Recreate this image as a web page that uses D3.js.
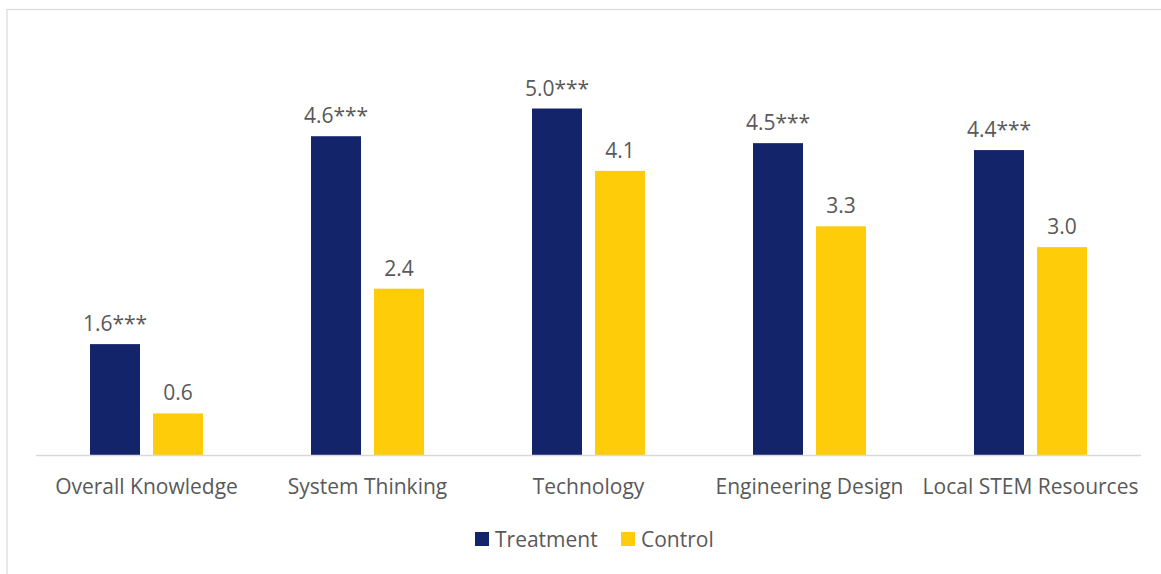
<!DOCTYPE html>
<html>
<head>
<meta charset="utf-8">
<script src="https://cdn.jsdelivr.net/npm/d3@7/dist/d3.min.js"></script>
<style>
  html, body { margin: 0; padding: 0; background: #fff; }
  svg { display: block; }
  text { font-family: "Open Sans", "Noto Sans", sans-serif; fill: #595959; }
</style>
</head>
<body>
<svg id="chart" width="1161" height="574"></svg>
<script>
const categories = ["Overall Knowledge", "System Thinking", "Technology", "Engineering Design", "Local STEM Resources"];
const seriesNames = ["Treatment", "Control"];
const treatment = [1.6, 4.6, 5.0, 4.5, 4.4];
const control = [0.6, 2.4, 4.1, 3.3, 3.0];
const treatmentLabels = ["1.6***", "4.6***", "5.0***", "4.5***", "4.4***"];
const controlLabels = ["0.6", "2.4", "4.1", "3.3", "3.0"];
const colors = ["#14246a", "#ffcc09"];

const svg = d3.select("#chart");
const W = 1161, H = 574;

// chart area frame
svg.append("rect")
  .attr("x", 7).attr("y", 9.5)
  .attr("width", W + 10).attr("height", H + 10)
  .attr("fill", "none").attr("stroke", "#d9d9d9").attr("stroke-width", 1.2);

const plot = { left: 36, right: 1141, top: 40, bottom: 455 };
const barW = 50, groupW = 113;

const x0 = d3.scaleBand().domain(categories).range([plot.left, plot.right]);
const x1 = d3.scaleOrdinal().domain(seriesNames).range([0, groupW - barW]);
const y = d3.scaleLinear().domain([0, 6]).range([plot.bottom, plot.bottom - 6 * 69.3]);

const rows = categories.map((c, i) => ({
  cat: c,
  vals: [
    { s: "Treatment", v: treatment[i], label: treatmentLabels[i] },
    { s: "Control", v: control[i], label: controlLabels[i] }
  ]
}));

const groups = svg.append("g").selectAll("g").data(rows).join("g")
  .attr("transform", d => `translate(${x0(d.cat) + (x0.bandwidth() - groupW) / 2},0)`);

groups.selectAll("rect").data(d => d.vals).join("rect")
  .attr("x", d => x1(d.s))
  .attr("width", barW)
  .attr("y", d => y(d.v))
  .attr("height", d => y(0) - y(d.v))
  .attr("fill", (d, i) => colors[i]);

groups.selectAll("text.val").data(d => d.vals).join("text")
  .attr("class", "val")
  .attr("x", d => x1(d.s) + barW / 2)
  .attr("y", d => y(d.v) - 13)
  .attr("text-anchor", "middle")
  .attr("font-size", 21)
  .text(d => d.label);

// baseline
svg.append("line")
  .attr("x1", plot.left).attr("x2", plot.right)
  .attr("y1", y(0) + 0.5).attr("y2", y(0) + 0.5)
  .attr("stroke", "#d9d9d9").attr("stroke-width", 1.5);

// category axis
const xAxis = svg.append("g").attr("transform", `translate(0,${y(0)})`)
  .call(d3.axisBottom(x0).tickSize(0).tickPadding(0));
xAxis.select(".domain").remove();
xAxis.selectAll("text")
  .attr("dy", 0).attr("y", 39)
  .attr("font-size", 21)
  .style("font-family", "\"Open Sans\", sans-serif")
  .attr("fill", "#595959");

// legend
const legend = svg.append("g").attr("transform", "translate(475,532)");
const legItems = [{ name: seriesNames[0], x: 0, c: colors[0] }, { name: seriesNames[1], x: 146, c: colors[1] }];
const li = legend.selectAll("g").data(legItems).join("g").attr("transform", d => `translate(${d.x},0)`);
li.append("rect").attr("width", 14).attr("height", 14).attr("fill", d => d.c);
li.append("text").attr("x", 20).attr("y", 15).attr("font-size", 21).text(d => d.name);
</script>
</body>
</html>
